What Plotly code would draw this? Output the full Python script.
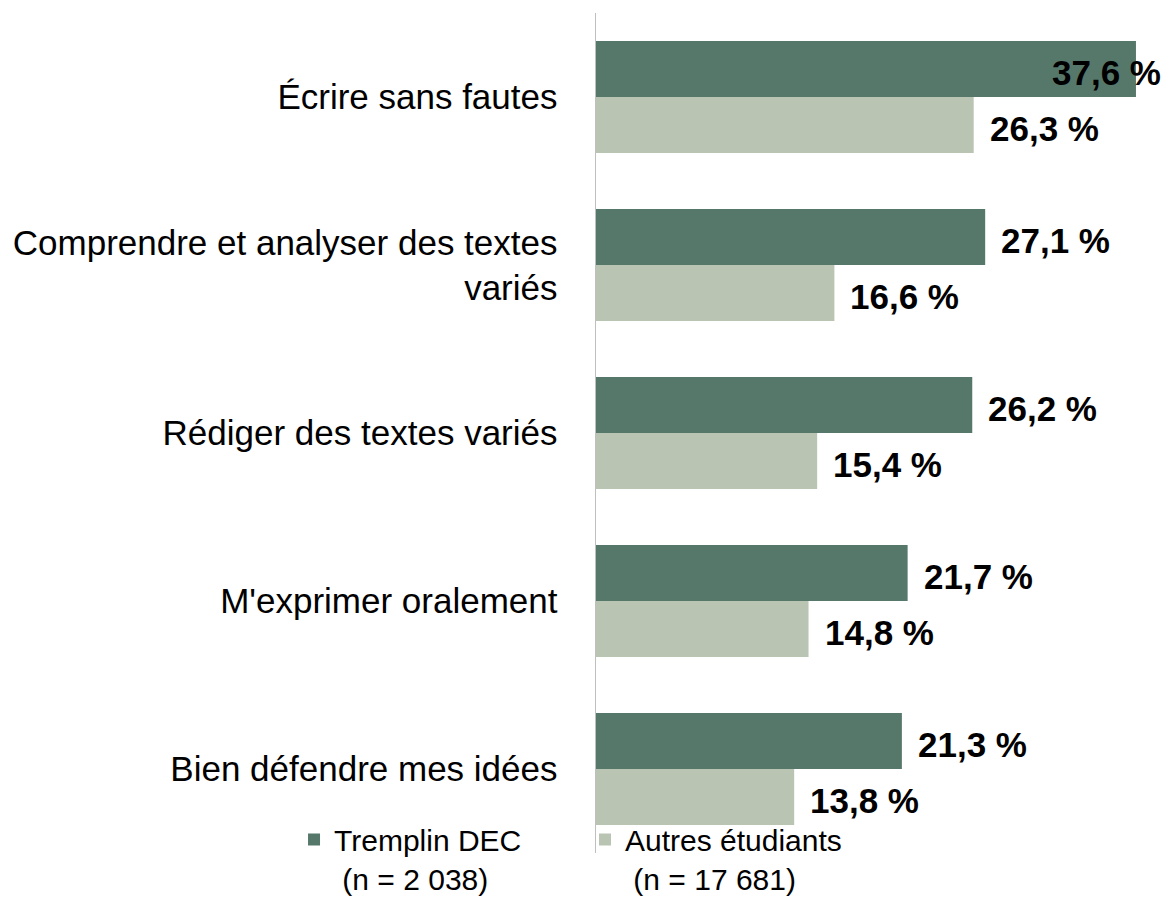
import plotly.graph_objects as go

categories = [
    "Écrire sans fautes",
    "Comprendre et analyser des textes<br>variés",
    "Rédiger des textes variés",
    "M'exprimer oralement",
    "Bien défendre mes idées",
]
tremplin = [37.6, 27.1, 26.2, 21.7, 21.3]
autres = [26.3, 16.6, 15.4, 14.8, 13.8]
series_names = ["Tremplin DEC<br>\u00a0(n = 2 038)", "Autres étudiants<br>\u00a0(n = 17 681)"]
series_values = [tremplin, autres]
colors = ["#56786B", "#B9C5B2"]

W, H = 1169, 900
ML, MR, MT, MB = 596, 0, 13, 47
XMAX = 39.9
BARGAP = 1 / 3

FONT = "Liberation Sans, Arial, sans-serif"

fig = go.Figure()
for name, vals, col in zip(series_names, series_values, colors):
    fig.add_trace(go.Bar(
        y=categories, x=vals, name=name, orientation="h",
        marker=dict(color=col, line=dict(width=0)),
        hoverinfo="skip",
    ))

# value labels (annotations placed at the data coordinates)
plot_h = H - MT - MB
cat_px = plot_h / len(categories)
bar_px = cat_px * (1 - BARGAP) / len(series_values)
label_room = 7.5  # data units needed right of the bar for a label
annotations = []
for si, vals in enumerate(series_values):
    yshift = (len(series_values) / 2 - si - 0.5) * bar_px
    for cat, v in zip(categories, vals):
        txt = f"{v:.1f}".replace(".", ",") + "\u00a0%"
        if v + label_room <= XMAX:
            ax, anchor, xs = v, "left", 14
        else:
            ax, anchor, xs = XMAX, "right", -6
        annotations.append(dict(
            x=ax, y=cat, xref="x", yref="y", text=txt, showarrow=False,
            xanchor=anchor, yanchor="middle", xshift=xs, yshift=yshift - 3,
            font=dict(family=FONT, size=35, color="#000000", weight="bold"),
        ))

fig.update_layout(
    width=W, height=H,
    margin=dict(l=ML, r=MR, t=MT, b=MB, autoexpand=False),
    paper_bgcolor="white", plot_bgcolor="white",
    barmode="group", bargap=BARGAP, bargroupgap=0,
    annotations=annotations,
    showlegend=True,
    legend=dict(
        orientation="h", x=-0.527, xanchor="left", y=0.047, yanchor="top",
        font=dict(family=FONT, size=30, color="#000000"),
        valign="top", entrywidth=246, entrywidthmode="pixels",
        traceorder="normal", bgcolor="rgba(0,0,0,0)", itemclick=False,
    ),
    xaxis=dict(range=[0, XMAX], showgrid=False, zeroline=False, showline=False,
               showticklabels=False, ticks=""),
    yaxis=dict(autorange="reversed", showgrid=False, zeroline=False,
               showline=True, linecolor="#BFBFBF", linewidth=1.5,
               ticks="", ticklabelstandoff=30,
               tickfont=dict(family=FONT, size=35, color="#000000")),
)

fig.write_html(
    "out.html",
    config={"displayModeBar": False, "staticPlot": True},
    post_script="document.body.style.margin='0';document.body.style.overflow='hidden';",
)
